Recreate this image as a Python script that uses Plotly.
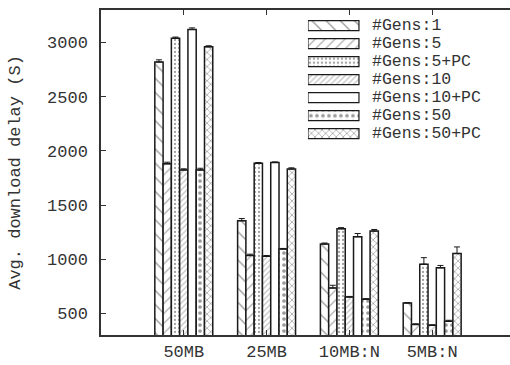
import plotly.graph_objects as go

categories = ["50MB", "25MB", "10MB:N", "5MB:N"]
series_names = ["#Gens:1", "#Gens:5", "#Gens:5+PC", "#Gens:10", "#Gens:10+PC", "#Gens:50", "#Gens:50+PC"]
values = {
    "#Gens:1":     [2820, 1355, 1139, 595],
    "#Gens:5":     [1880, 1034, 734, 398],
    "#Gens:5+PC":  [3040, 1886, 1281, 954],
    "#Gens:10":    [1824, 1028, 651, 389],
    "#Gens:10+PC": [3120, 1892, 1207, 920],
    "#Gens:50":    [1824, 1093, 630, 426],
    "#Gens:50+PC": [2960, 1833, 1259, 1053],
}
errors = {
    "#Gens:1":     [20, 20, 10, 5],
    "#Gens:5":     [15, 12, 25, 5],
    "#Gens:5+PC":  [10, 6, 10, 60],
    "#Gens:10":    [10, 6, 5, 5],
    "#Gens:10+PC": [15, 6, 30, 22],
    "#Gens:50":    [15, 6, 5, 10],
    "#Gens:50+PC": [10, 10, 15, 60],
}
y_ticks = [500, 1000, 1500, 2000, 2500, 3000]

patterns = {
    "#Gens:1":     dict(shape="\\", size=10, solidity=0.12, fgcolor="#222"),
    "#Gens:5":     dict(shape="/", size=7, solidity=0.15, fgcolor="#333"),
    "#Gens:5+PC":  dict(shape=".", size=4, solidity=0.25, fgcolor="#444"),
    "#Gens:10":    dict(shape="/", size=4, solidity=0.3, fgcolor="#888"),
    "#Gens:10+PC": dict(shape="", fgcolor="#222"),
    "#Gens:50":    dict(shape=".", size=6, solidity=0.3, fgcolor="#333"),
    "#Gens:50+PC": dict(shape="x", size=5, solidity=0.3, fgcolor="#555"),
}

FONT = "Liberation Mono, Courier New, monospace"
TXT = "#333"
fig = go.Figure()

for name in series_names:
    pat = dict(patterns[name])
    pat["bgcolor"] = "white"
    fig.add_trace(go.Bar(
        x=categories, y=values[name], name=name, showlegend=False,
        marker=dict(color="white", line=dict(color="#1a1a1a", width=1.5), pattern=pat),
        error_y=dict(type="data", symmetric=False, array=errors[name],
                     arrayminus=[0] * len(categories), color="#1a1a1a", thickness=1, width=3),
        xaxis="x", yaxis="y",
    ))

# custom legend drawn as horizontal bars on an overlay axis
sw_h = 0.556
for i, name in enumerate(series_names):
    pat = dict(patterns[name])
    pat["bgcolor"] = "white"
    fig.add_trace(go.Bar(
        orientation="h", y=[i], x=[51], base=[0], width=[sw_h], offset=[-sw_h / 2],
        showlegend=False, hoverinfo="skip",
        marker=dict(color="white", line=dict(color="#1a1a1a", width=1.2), pattern=pat),
        xaxis="x2", yaxis="y2",
    ))
    fig.add_annotation(x=62, y=i, xref="x2", yref="y2", text=name, showarrow=False,
                       xanchor="left", yanchor="middle",
                       font=dict(family=FONT, size=16.5, color=TXT))

fig.update_layout(
    width=510, height=365,
    margin=dict(l=101, r=0, t=10, b=30),
    paper_bgcolor="white", plot_bgcolor="white",
    barmode="group", bargap=0.30, bargroupgap=0,
    font=dict(family=FONT, size=17, color=TXT),
    xaxis=dict(
        type="category", range=[-1, 3.94], showgrid=False,
        showline=True, linecolor="#333", linewidth=1.5, mirror="ticks",
        ticks="inside", ticklen=5, tickcolor="#333",
        tickfont=dict(family=FONT, size=17, color=TXT),
    ),
    yaxis=dict(
        range=[300, 3300], tickvals=y_ticks, showgrid=False, zeroline=False,
        showline=True, linecolor="#333", linewidth=1.5, mirror=False,
        ticks="inside", ticklen=5, tickcolor="#333", ticklabelstandoff=8,
        tickfont=dict(family=FONT, size=17, color=TXT),
        title=dict(text="Avg. download delay (S)", font=dict(family=FONT, size=17, color=TXT), standoff=22),
    ),
    xaxis2=dict(domain=[0.506, 1.0], range=[0, 202], visible=False, anchor="y2", fixedrange=True),
    yaxis2=dict(domain=[0.5917, 0.9794], range=[6.5, -0.5], visible=False, anchor="x2", fixedrange=True),
)

fig.write_html("out.html")
